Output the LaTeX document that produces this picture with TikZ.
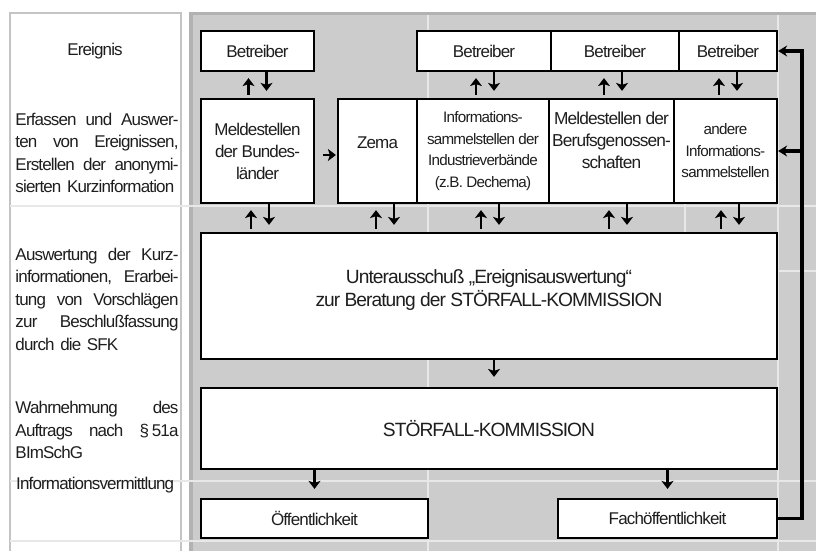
\documentclass[tikz,border=0pt]{standalone}
\usepackage{fontspec}
\setmainfont{Liberation Sans}[LetterSpace=-5]
\usetikzlibrary{arrows.meta,calc}
\definecolor{panel}{RGB}{204,204,204}
\definecolor{paneledge}{RGB}{178,178,178}
\definecolor{tabline}{RGB}{196,196,196}
\definecolor{gridlite}{RGB}{232,232,232}
\definecolor{ink}{RGB}{30,30,30}
\newcommand\fL{\fontsize{17}{22.5}\selectfont}
\newcommand\fB{\fontsize{17}{22}\selectfont}
\newcommand\fC{\fontsize{15.2}{21.5}\selectfont}
\newcommand\fD{\fontsize{17.3}{22}\selectfont}
\newcommand\fE{\fontsize{19.2}{23}\selectfont}
\newcommand\jl[1]{\leavevmode\hbox to 163pt{\spaceskip=.22em plus 1fil\relax #1}}
\newcommand\updown[4]{%
  \coordinate (u#4) at ($(#1.south)+({#3-9},6)$);
  \draw[arr] ($(u#4 |- #2.north)+(0,-3)$) -- (u#4);
  \coordinate (d#4) at ($(#1.south)+({#3+9},0)$);
  \draw[arr] (d#4) -- ($(d#4 |- #2.north)+(0,-7)$);
}
\begin{document}
\begin{tikzpicture}[x=1pt,y=-1pt,
  bx/.style={draw=black, line width=2.2pt, fill=white, inner sep=0pt, align=center, font=\fB, text=ink},
  arr/.style={line width=2.7pt, -{Stealth[length=8pt,width=12pt,inset=2pt]}},
  fb/.style={line width=3.8pt, -{Stealth[length=9pt,width=11pt]}},
  lefttxt/.style={text width=163pt, align=left, inner sep=0pt, font=\fL, text=ink},
]
\useasboundingbox (0,0) rectangle (816,551);
\fill[white] (0,0) rectangle (816,551);
% left table frame
\draw[tabline, line width=1.2pt] (10,551) -- (10,13) -- (181,13) -- (181,551);
% grey panel
\fill[panel] (189,13) rectangle (816,551);
\fill[paneledge] (189,12) rectangle (193,551);
\fill[paneledge] (189,12) rectangle (816,15);
% faint table grid
\foreach \yy in {206,481,541} \draw[gridlite, line width=1.2pt] (10,\yy) -- (816,\yy);
\draw[gridlite, line width=1.2pt] (778,271) -- (816,271);
\foreach \xx in {428,778} \draw[gridlite, line width=1.2pt] (\xx,15) -- (\xx,551);
\draw[gridlite, line width=1.2pt] (685,203) -- (685,233);

% left column texts
\node[font=\fL, text=ink, inner sep=0pt] (t1) at (95,51) {Ereignis};
\node[lefttxt] (t2) at (97,153) {\jl{Erfassen und Auswer-}\\\jl{ten von Ereignissen,}\\\jl{Erstellen der anonymi-}\\sierten Kurzinformation};
\node[lefttxt] (t3) at (97,299) {\jl{Auswertung der Kurz-}\\\jl{informationen, Erarbei-}\\\jl{tung von Vorschlägen}\\\jl{zur Beschlußfassung}\\durch die SFK};
\node[lefttxt] (t4) at (97,430) {\jl{Wahrnehmung des}\\\jl{Auftrags nach §\,51a}\\BImSchG};
\node[font=\fL, text=ink, inner sep=0pt, anchor=west] (t5) at (16,485) {Informationsvermittlung};

% boxes
\node[bx, minimum width=113pt, minimum height=40pt] (B1) at (257.5,51) {Betreiber};
\node[bx, minimum width=134pt, minimum height=40pt] (B2) at (484,51) {Betreiber};
\node[bx, minimum width=128pt, minimum height=40pt] (B3) at (615,51) {Betreiber};
\node[bx, minimum width=98pt, minimum height=40pt] (B4) at (728,51) {Betreiber};

\node[bx, minimum width=113pt, minimum height=104pt] (M1) at (257.5,151) {Meldestellen\\der Bundes-\\länder};
\node[bx, minimum width=79pt, minimum height=104pt] (Z) at (377.5,151) {Zema\\[-5pt]\mbox{}};
\node[bx, font=\fC, minimum width=132pt, minimum height=104pt] (I) at (483,151) {Informations-\\sammelstellen der\\Industrieverbände\\(z.B. Dechema)};
\node[bx, font=\fD, minimum width=125pt, minimum height=104pt] (MB) at (611.5,151) {Meldestellen der\\Berufsgenossen-\\schaften\\\mbox{}};
\node[bx, font=\fC, minimum width=103pt, minimum height=104pt] (A) at (725.5,151) {andere\\Informations-\\sammelstellen};

\node[bx, font=\fE, minimum width=576pt, minimum height=126pt] (U) at (489,296) {Unterausschuß „Ereignisauswertung“\\zur Beratung der STÖRFALL-KOMMISSION\\[-8pt]\mbox{}};
\node[bx, font=\fE, minimum width=576pt, minimum height=81pt] (S) at (489,428.5) {STÖRFALL-KOMMISSION};

\node[bx, minimum width=227pt, minimum height=39pt] (O) at (314.5,518.5) {Öffentlichkeit};
\node[bx, minimum width=219pt, minimum height=39pt] (F) at (667.5,518.5) {Fachöffentlichkeit};

% paired arrows
\updown{B1}{M1}{0}{a}
\updown{B2}{I}{1}{b}
\updown{B3}{MB}{-2}{c}
\updown{B4}{A}{0}{d}
\updown{M1}{U}{2.5}{e}
\updown{Z}{U}{7.5}{f}
\updown{I}{U}{7}{g}
\updown{MB}{U}{6.5}{h}
\updown{A}{U}{4.5}{i}

% single arrows
\draw[arr] ($(M1.east)+(8,4)$) -- ($(Z.west)+(-1,4)$);
\coordinate (ua) at ($(U.south)+(5,0)$);
\draw[arr] (ua) -- ($(ua |- S.north)+(0,-10)$);
\draw[arr] (S.south -| O.north) -- ($(O.north)+(0,-9)$);
\draw[arr] (S.south -| F.north) -- ($(F.north)+(0,-9)$);

% feedback line
\coordinate (fx) at (802,0);
\draw[fb] (F.east) -- (F.east -| fx) -- (fx |- B4.east) -- (B4.east);
\draw[fb] (fx |- A.east) -- (A.east);
\end{tikzpicture}
\end{document}
